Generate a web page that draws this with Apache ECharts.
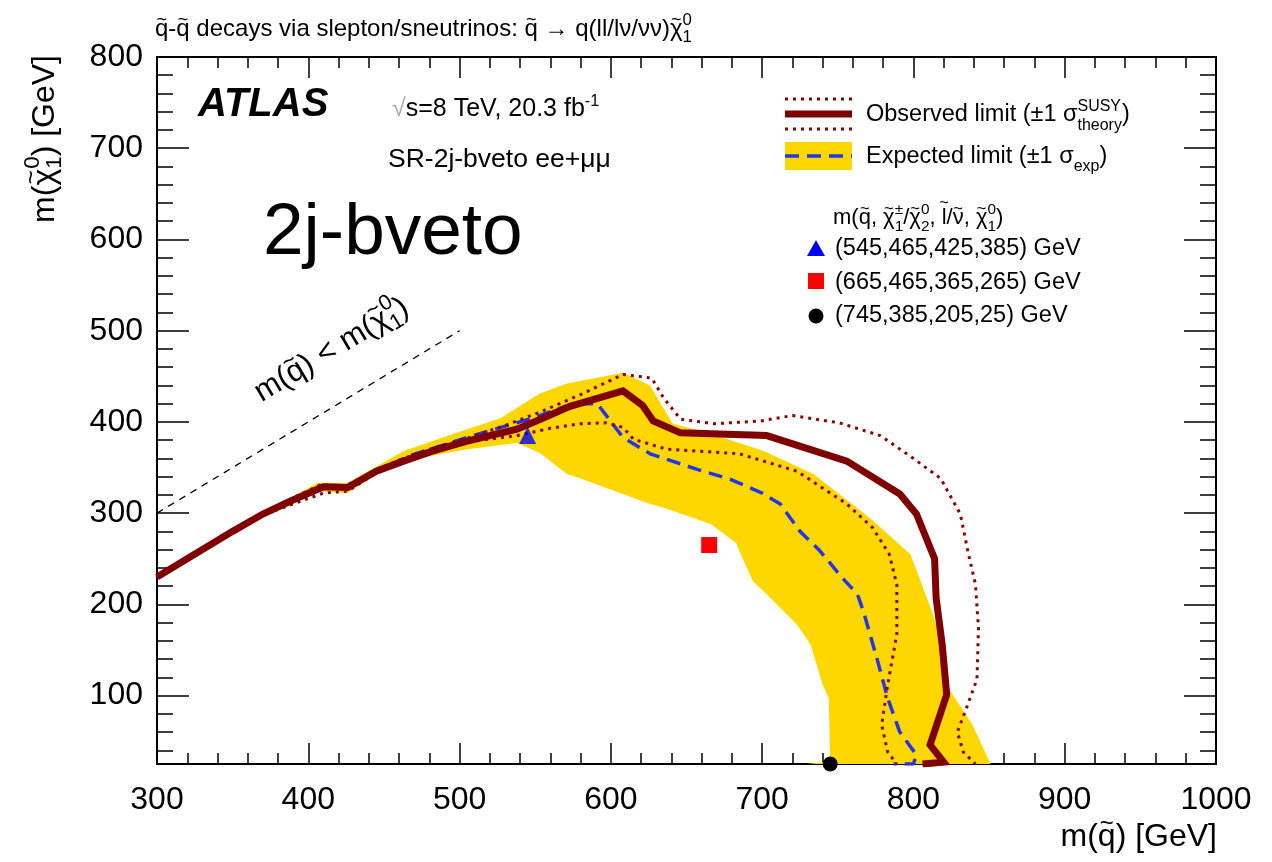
<!DOCTYPE html>
<html><head><meta charset="utf-8">
<script src="https://cdn.jsdelivr.net/npm/echarts@6/dist/echarts.min.js"></script>
<style>html,body{margin:0;padding:0;background:#fff}#c{width:1272px;height:862px}</style>
</head><body><div id="c"></div>
<script>
const FONT = '"Liberation Sans", Arial, Helvetica, sans-serif';

// ---------- data ----------
const xTicks = [300, 400, 500, 600, 700, 800, 900, 1000];
const yTicks = [100, 200, 300, 400, 500, 600, 700, 800];
const yMinorTicks = [40, 60, 80, 120, 140, 160, 180, 220, 240, 260, 280, 320, 340, 360, 380, 420, 440, 460, 480, 520, 540, 560, 580, 620, 640, 660, 680, 720, 740, 760, 780];

// observed limit (solid)
const obsX = [300, 350, 370, 388, 410, 426, 445, 463, 482, 505, 538, 555, 573, 608, 621, 628, 646, 703, 756, 791, 802, 814, 815, 819, 822, 811, 820, 806];
const obsY = [230, 280, 299, 313, 329, 328, 346, 357, 368, 379, 392, 404, 417, 434, 418, 401, 388, 385, 357, 321, 299, 250, 207, 156, 101, 46, 27, 25];
// observed +1 sigma theory (dotted)
const obsUpX = [300, 350, 370, 388, 408, 425, 445, 463, 482, 505, 530, 555, 580, 608, 627, 635, 646, 668, 699, 720, 751, 778, 800, 818, 831, 836, 841, 843, 842, 835, 829, 833, 841];
const obsUpY = [231, 281, 300, 315, 331, 330, 348, 360, 371, 382, 396, 412, 430, 452, 448, 426, 403, 398, 401, 407, 399, 385, 360, 338, 299, 258, 222, 174, 118, 86, 60, 38, 25];
// observed -1 sigma theory (dotted)
const obsDnX = [300, 350, 370, 390, 410, 426, 445, 463, 482, 505, 538, 560, 580, 597, 608, 615, 637, 685, 723, 756, 773, 784, 789, 789, 783, 779, 783, 789];
const obsDnY = [229, 279, 298, 310, 322, 324, 344, 356, 367, 378, 385, 393, 398, 399, 394, 381, 370, 365, 346, 310, 284, 255, 222, 167, 112, 68, 38, 25];
// expected limit (blue dashed)
const expX = [388, 410, 426, 445, 467, 490, 515, 548, 575, 591, 608, 626, 657, 679, 700, 712, 725, 738, 753, 763, 767, 776, 783, 791, 802, 800, 787];
const expY = [313, 329, 328, 346, 363, 375, 388, 404, 420, 420, 383, 365, 348, 337, 322, 310, 280, 259, 229, 211, 192, 140, 97, 60, 35, 25, 25];
// +-1 sigma expected band (polygon: upper edge left->right, lower edge right->left)
const bandX = [383, 406, 426, 463, 498, 527, 553, 571, 608, 626, 633, 641, 664, 701, 734, 771, 798, 804, 813, 820, 822, 826, 839, 851,
               730, 745, 744, 740, 732, 723, 703, 694, 685, 683, 666, 635, 626, 593, 580, 571, 553, 538, 505, 472, 445, 426, 406];
const bandY = [312, 333, 333, 368, 388, 404, 431, 442, 454, 440, 420, 398, 388, 368, 343, 295, 255, 229, 189, 148, 112, 101, 68, 25,
               25, 28, 97, 112, 156, 178, 211, 225, 258, 267, 288, 306, 310, 330, 338, 343, 366, 377, 370, 360, 343, 322, 324];
// kinematic boundary m(sq) = m(chi)
const diagX = [300, 500];
const diagY = [300, 500];
// benchmark points
const triPt = [[545, 385]];
const sqPt = [[665, 265]];
const dotPt = [[745, 25]];
const benchLabels = ['(545,465,425,385) GeV', '(665,465,365,265) GeV', '(745,385,205,25) GeV'];

const pairs = (xs, ys) => xs.map((x, i) => [x, ys[i]]);

// ---------- text helpers ----------
const mctx = document.createElement('canvas').getContext('2d');
function fontStr(size, w, st) { return (st || '') + ' ' + (w || 'normal') + ' ' + size + 'px ' + FONT; }
function tw(t, f) { mctx.font = f; return mctx.measureText(t).width; }
function txt(x, baseY, t, f, s, fill) {
  return { type: 'text', x: x, y: baseY - 0.3 * s,
    style: { text: t, font: f, fill: fill, textAlign: 'left', align: 'left', textVerticalAlign: 'middle', verticalAlign: 'middle' } };
}
// build a run of text pieces on a baseline; returns {children, width}
function runs(items, size, fill) {
  let x = 0, lastStart = 0, lastEnd = 0;
  const ch = [];
  for (const it of items) {
    const s = size * (it.s || 1);
    const f = fontStr(s, it.w, it.st);
    const w = tw(it.t, f);
    const xs = it.stack ? lastStart : x;
    const col = it.fill || fill || '#000';
    ch.push(txt(xs, it.dy || 0, it.t, f, s, col));
    if (it.tilde) {
      const ts = s * 0.75, tf = fontStr(ts);
      const tww = tw('~', tf);
      const h = it.th || 0.72; // centre height of tilde in em
      ch.push(txt(xs + w / 2 - tww / 2 + (it.tx || 0) * s, (it.dy || 0) - (h * s - 0.33 * ts), '~', tf, ts, col));
    }
    if (it.stack) { x = Math.max(lastEnd, xs + w); lastEnd = x; }
    else { lastStart = xs; x = xs + w; lastEnd = x; }
  }
  return { children: ch, width: x };
}
function textGroup(items, size, x, y, opts) {
  opts = opts || {};
  const r = runs(items, size, opts.fill);
  let ox = 0;
  if (opts.align === 'right') ox = -r.width;
  if (opts.align === 'center') ox = -r.width / 2;
  r.children.forEach(c => c.x += ox);
  return { type: 'group', x: x, y: y, rotation: opts.rotation || 0, silent: true, children: r.children };
}
const Q = { t: 'q', tilde: true, th: 0.72 };
const CHI = { t: 'χ', tilde: true, th: 0.74 };

const chart = echarts.init(document.getElementById('c'), null, { renderer: 'canvas' });

const axisCommon = {
  axisLine: { show: true, lineStyle: { color: '#000', width: 2 } },
  splitLine: { show: false },
};
const LBL = 32;
const xMain = (pos, labels) => Object.assign({
  type: 'value', min: 300, max: 1000, interval: 100, position: pos,
  axisTick: { show: true, inside: true, length: 21, lineStyle: { color: '#000', width: 1.5 } },
  minorTick: { show: true, splitNumber: 5, length: 11, lineStyle: { color: '#000', width: 1.5 } },
  axisLabel: { show: labels, fontSize: LBL, fontFamily: FONT, color: '#000', margin: 20,
    customValues: xTicks, formatter: v => String(v) },
}, axisCommon);
const yAx = (pos, vals, len, labels) => Object.assign({
  type: 'value', min: 25, max: 800, position: pos,
  axisTick: { show: true, inside: true, length: len, customValues: vals, lineStyle: { color: '#000', width: 1.5 } },
  axisLabel: { show: labels, fontSize: LBL, fontFamily: FONT, color: '#000', margin: 14, customValues: vals,
    formatter: v => String(v) },
}, axisCommon);

const option = {
  animation: false,
  backgroundColor: '#fff',
  grid: { left: 157, right: 56, top: 57, bottom: 98, containLabel: false },
  xAxis: [xMain('bottom', true), xMain('top', false)],
  yAxis: [yAx('left', yTicks, 32, true), yAx('left', yMinorTicks, 16, false),
          yAx('right', yTicks, 32, false), yAx('right', yMinorTicks, 16, false)],
  series: [
    { type: 'custom', name: 'band', xAxisIndex: 0, yAxisIndex: 0, data: [0], clip: true, z: 1,
      renderItem: function (params, api) {
        const pts = bandX.map((x, i) => api.coord([x, bandY[i]]));
        return { type: 'polygon', shape: { points: pts }, style: { fill: '#FFD700', stroke: null } };
      } },
    { type: 'line', name: 'diag', data: pairs(diagX, diagY), showSymbol: false, symbol: 'none', z: 2,
      lineStyle: { color: '#000', width: 1.3, type: [7, 6] } },
    { type: 'line', name: 'exp', data: pairs(expX, expY), showSymbol: false, symbol: 'none', z: 3,
      lineStyle: { color: '#2436e8', width: 3.5, type: [14, 8] } },
    { type: 'line', name: 'obsUp', data: pairs(obsUpX, obsUpY), showSymbol: false, symbol: 'none', z: 4,
      lineStyle: { color: '#8b0000', width: 3, type: [3, 5] } },
    { type: 'line', name: 'obsDn', data: pairs(obsDnX, obsDnY), showSymbol: false, symbol: 'none', z: 4,
      lineStyle: { color: '#8b0000', width: 3, type: [3, 5] } },
    { type: 'line', name: 'obs', data: pairs(obsX, obsY), showSymbol: false, symbol: 'none', z: 5,
      lineStyle: { color: '#7f0000', width: 7, join: 'miter' } },
    { type: 'scatter', name: 'tri', data: triPt, symbol: 'triangle', symbolSize: 17, z: 6,
      itemStyle: { color: '#0000ff' } },
    { type: 'scatter', name: 'sq', data: sqPt, symbol: 'rect', symbolSize: 16, z: 6,
      itemStyle: { color: '#ff0000', opacity: 1 } },
    { type: 'scatter', name: 'dot', data: dotPt, symbol: 'circle', symbolSize: 15, z: 6, clip: false,
      itemStyle: { color: '#000', opacity: 1 } },
  ],
  graphic: [],
};

const G = [];
// title
G.push(textGroup([Q, { t: '-' }, Q, { t: ' decays via slepton/sneutrinos: ' }, Q, { t: ' → q(ll/lν/νν)' }, CHI,
  { t: '0', s: 0.7, dy: -12 }, { t: '1', s: 0.7, dy: 5, stack: true }], 24, 155, 37));
// y axis title
G.push(textGroup([{ t: 'm(' }, CHI, { t: '0', s: 0.7, dy: -15 }, { t: '1', s: 0.7, dy: 7, stack: true },
  { t: ') [GeV]' }], LBL, 55, 55, { align: 'right', rotation: Math.PI / 2 }));
// x axis title
G.push(textGroup([{ t: 'm(' }, Q, { t: ') [GeV]' }], LBL, 1217, 847, { align: 'right' }));
// ATLAS
G.push(textGroup([{ t: 'ATLAS', w: 'bold', st: 'italic' }], 40, 198, 117));
G.push(textGroup([{ t: '√', fill: '#aaa' }, { t: 's=8 TeV, 20.3 fb' }, { t: '-1', s: 0.65, dy: -11 }], 25, 392, 117));
G.push(textGroup([{ t: 'SR-2j-bveto ee+μμ' }], 26.5, 388, 168));
G.push(textGroup([{ t: '2j-bveto' }], 73, 263, 256));
// diagonal label
G.push(textGroup([{ t: 'm(' }, Q, { t: ') < m(' }, CHI, { t: '0', s: 0.7, dy: -15 }, { t: '1', s: 0.7, dy: 7, stack: true }, { t: ')' }],
  31, 262, 403, { rotation: Math.atan2(91, 151.3) }));
// legend
const LX0 = 785, LX1 = 852;
G.push({ type: 'line', shape: { x1: LX0, y1: 99, x2: LX1, y2: 99 }, style: { stroke: '#8b0000', lineWidth: 3, lineDash: [3, 5] } });
G.push({ type: 'line', shape: { x1: LX0, y1: 114, x2: LX1, y2: 114 }, style: { stroke: '#7f0000', lineWidth: 7 } });
G.push({ type: 'line', shape: { x1: LX0, y1: 129, x2: LX1, y2: 129 }, style: { stroke: '#8b0000', lineWidth: 3, lineDash: [3, 5] } });
G.push({ type: 'rect', shape: { x: LX0, y: 142, width: LX1 - LX0, height: 28 }, style: { fill: '#FFD700' } });
G.push({ type: 'line', shape: { x1: LX0, y1: 156, x2: LX1, y2: 156 }, style: { stroke: '#2436e8', lineWidth: 3.5, lineDash: [14, 8] } });
const LF = 23.5;
G.push(textGroup([{ t: 'Observed limit (±1 σ' }, { t: 'SUSY', s: 0.68, dy: -11 }, { t: 'theory', s: 0.68, dy: 8, stack: true }, { t: ')' }], LF, 866, 122));
G.push(textGroup([{ t: 'Expected limit (±1 σ' }, { t: 'exp', s: 0.68, dy: 7 }, { t: ')' }], LF, 866, 164));
G.push(textGroup([{ t: 'm(' }, Q, { t: ', ' }, CHI, { t: '±', s: 0.7, dy: -11 }, { t: '1', s: 0.7, dy: 6, stack: true },
  { t: '/' }, CHI, { t: '0', s: 0.7, dy: -11 }, { t: '2', s: 0.7, dy: 6, stack: true },
  { t: ', ' }, { t: 'l', tilde: true, th: 0.98 }, { t: '/' }, { t: 'ν', tilde: true, th: 0.72 }, { t: ', ' }, CHI,
  { t: '0', s: 0.7, dy: -11 }, { t: '1', s: 0.7, dy: 6, stack: true }, { t: ')' }], 22, 833, 225));
G.push({ type: 'polygon', shape: { points: [[807, 256], [825, 256], [816, 240]] }, style: { fill: '#0000ff' } });
G.push({ type: 'rect', shape: { x: 808, y: 273, width: 16, height: 16 }, style: { fill: '#ff0000' } });
G.push({ type: 'circle', shape: { cx: 816, cy: 316, r: 7.5 }, style: { fill: '#000' } });
G.push(textGroup([{ t: benchLabels[0] }], LF, 835, 256));
G.push(textGroup([{ t: benchLabels[1] }], LF, 835, 290));
G.push(textGroup([{ t: benchLabels[2] }], LF, 835, 323));

option.graphic = G;
chart.setOption(option);
</script>
</body></html>
